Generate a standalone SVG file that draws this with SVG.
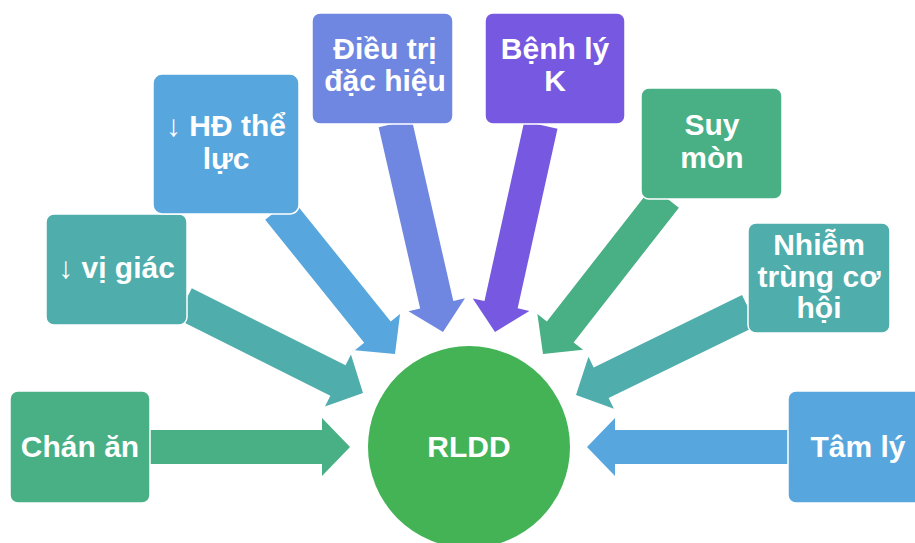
<svg xmlns="http://www.w3.org/2000/svg" width="915" height="543" viewBox="0 0 915 543">
  <style>
    .box { stroke: #ffffff; stroke-width: 1.5; }
    .lbl { font-family: "Liberation Sans", Arial, sans-serif; font-weight: bold; font-size: 30px; fill: #ffffff; text-anchor: middle; }
    .green { fill: #48B084; }
    .teal { fill: #4FADAC; }
    .blue { fill: #58A6DE; }
    .peri { fill: #6F87E1; }
    .purple { fill: #7659E0; }
  </style>
  <rect width="915" height="543" fill="#ffffff"/>

  <!-- connectors: block arrows, tip at origin pointing along +x, then placed and rotated -->
  <g id="connectors">
    <polygon class="green" transform="translate(350,447) rotate(0)" points="-200,-17 -28,-17 -28,-29 0,0 -28,29 -28,17 -200,17"/>
    <polygon class="blue" transform="translate(587,447) rotate(180)" points="-202,-17 -28,-17 -28,-29 0,0 -28,29 -28,17 -202,17"/>
    <polygon class="teal" transform="translate(363,393) rotate(26.6)" points="-200,-17 -28,-17 -28,-29 0,0 -28,29 -28,17 -200,17"/>
    <polygon class="blue" transform="translate(395,354) rotate(51.2)" points="-186,-17 -28,-17 -28,-29 0,0 -28,29 -28,17 -186,17"/>
    <polygon class="peri" transform="translate(443,332) rotate(77.1)" points="-214,-17 -28,-17 -28,-29 0,0 -28,29 -28,17 -214,17"/>
    <polygon class="purple" transform="translate(495,332) rotate(102.5)" points="-212,-17 -28,-17 -28,-29 0,0 -28,29 -28,17 -212,17"/>
    <polygon class="green" transform="translate(543,354) rotate(128)" points="-199,-17 -28,-17 -28,-29 0,0 -28,29 -28,17 -199,17"/>
    <polygon class="teal" transform="translate(576,395) rotate(154)" points="-193,-17 -28,-17 -28,-29 0,0 -28,29 -28,17 -193,17"/>
  </g>

  <g id="node-rldd">
    <circle cx="469" cy="447" r="101" fill="#43B356"/>
    <text class="lbl" x="469" y="457">RLDD</text>
  </g>

  <g id="node-chan-an">
    <rect class="box green" x="10" y="391" width="140" height="112" rx="8"/>
    <text class="lbl" x="80" y="457">Chán ăn</text>
  </g>

  <g id="node-vi-giac">
    <rect class="box teal" x="46" y="214" width="141" height="111" rx="8"/>
    <text class="lbl" x="116.5" y="278">↓ vị giác</text>
  </g>

  <g id="node-hd-the-luc">
    <rect class="box blue" x="153" y="74" width="146" height="140" rx="9"/>
    <text class="lbl" x="226" y="136">↓ HĐ thể</text>
    <text class="lbl" x="226" y="169">lực</text>
  </g>

  <g id="node-dieu-tri">
    <rect class="box peri" x="312" y="13" width="141" height="111" rx="8"/>
    <text class="lbl" x="385" y="59">Điều trị</text>
    <text class="lbl" x="385" y="91">đặc hiệu</text>
  </g>

  <g id="node-benh-ly-k">
    <rect class="box purple" x="485" y="13" width="140" height="111" rx="8"/>
    <text class="lbl" x="555" y="59">Bệnh lý</text>
    <text class="lbl" x="555" y="91">K</text>
  </g>

  <g id="node-suy-mon">
    <rect class="box green" x="641" y="88" width="141" height="111" rx="8"/>
    <text class="lbl" x="712" y="135">Suy</text>
    <text class="lbl" x="712" y="168">mòn</text>
  </g>

  <g id="node-nhiem-trung">
    <rect class="box teal" x="748" y="223" width="142" height="110" rx="8"/>
    <text class="lbl" x="819" y="255">Nhiễm</text>
    <text class="lbl" x="819" y="287">trùng cơ</text>
    <text class="lbl" x="819" y="318">hội</text>
  </g>

  <g id="node-tam-ly">
    <rect class="box blue" x="788" y="391" width="140" height="112" rx="8"/>
    <text class="lbl" x="858" y="457">Tâm lý</text>
  </g>
</svg>
